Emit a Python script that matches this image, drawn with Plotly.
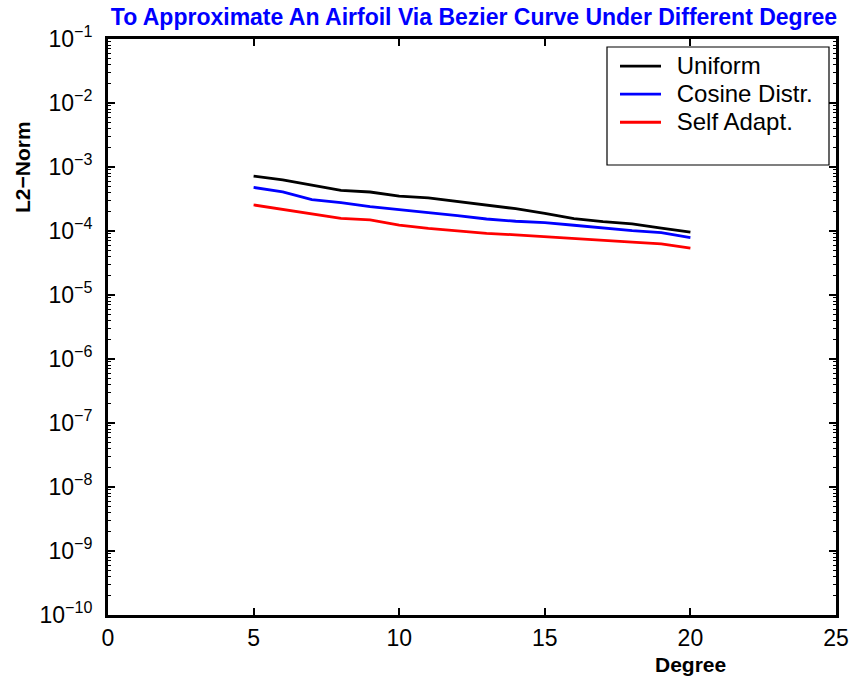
import plotly.graph_objects as go

degree = list(range(5, 21))
uniform = [7.2e-4, 6.3e-4, 5.2e-4, 4.3e-4, 4.07e-4, 3.5e-4, 3.3e-4, 2.9e-4,
           2.58e-4, 2.23e-4, 1.89e-4, 1.56e-4, 1.4e-4, 1.29e-4, 1.11e-4, 9.6e-5]
cosine = [4.8e-4, 4.1e-4, 3.1e-4, 2.77e-4, 2.4e-4, 2.18e-4, 1.93e-4, 1.74e-4,
          1.54e-4, 1.42e-4, 1.35e-4, 1.23e-4, 1.11e-4, 1.01e-4, 9.4e-5, 7.9e-5]
self_adapt = [2.55e-4, 2.18e-4, 1.89e-4, 1.58e-4, 1.49e-4, 1.24e-4, 1.10e-4, 1.0e-4,
              9.2e-5, 8.7e-5, 8.1e-5, 7.7e-5, 7.2e-5, 6.7e-5, 6.3e-5, 5.4e-5]
series_names = ["Uniform", "Cosine Distr.", "Self Adapt."]
series_colors = ["#000000", "#0000ff", "#ff0000"]
x_ticks = [0, 5, 10, 15, 20, 25]
y_exps = list(range(-10, 0))

FONT = "Liberation Sans, Arial, sans-serif"

W, H = 853, 683
L, T, PW, PH = 108, 39, 728, 576

def px(xpage):
    return (xpage - L) / PW

def py(ypage):
    return 1 - (ypage - T) / PH

fig = go.Figure()
for name, vals, col in zip(series_names, [uniform, cosine, self_adapt], series_colors):
    fig.add_trace(go.Scatter(
        x=degree, y=vals, mode="lines",
        name="\u00a0\u00a0<span style='font-size:24px'>%s</span>" % name,
        line=dict(color=col, width=2.8)))

minor_vals = [k * 10.0 ** e for e in range(-10, -1) for k in range(2, 10)]

fig.update_layout(
    template="none",
    width=W, height=H,
    margin=dict(l=L, r=W - L - PW, t=T, b=H - T - PH, autoexpand=False),
    paper_bgcolor="white", plot_bgcolor="white",
    font=dict(family=FONT, size=23, color="black"),
    title=dict(text="<b>To Approximate An Airfoil Via Bezier Curve Under Different Degree</b>",
               x=474 / W, xanchor="center", y=1 - 17 / H, yanchor="middle",
               font=dict(family=FONT, size=23, color="#0000ff")),
    showlegend=True,
    legend=dict(x=px(615), y=py(47), xanchor="left", yanchor="top",
                bgcolor="rgba(0,0,0,0)", borderwidth=0, itemwidth=41,
                font=dict(family=FONT, size=19.3), tracegroupgap=0),
    xaxis=dict(range=[0, 25], tickvals=x_ticks, ticks="inside", ticklen=7,
               tickwidth=1.5, tickcolor="black", showline=True, linewidth=3,
               linecolor="black", mirror="ticks", showgrid=False, zeroline=False,
               automargin=False, tickfont=dict(size=23)),
    yaxis=dict(type="log", range=[-10, -1], tickvals=[10.0 ** e for e in y_exps] + [0.1],
               ticktext=["10<sup>−%d</sup>" % (-e) for e in y_exps] + ["10<sup>−1</sup>"],
               ticks="inside", ticklen=7, tickwidth=1.5, tickcolor="black",
               showline=True, linewidth=3, linecolor="black", mirror="ticks",
               showgrid=False, zeroline=False, automargin=False,
               ticklabelstandoff=8, tickfont=dict(size=23),
               minor=dict(tickvals=minor_vals, ticks="inside", ticklen=3,
                          tickcolor="black", tickwidth=1, showgrid=False)),
    shapes=[dict(type="rect", xref="paper", yref="paper",
                 x0=px(607), x1=px(829), y0=py(165), y1=py(47),
                 line=dict(color="black", width=1.2), fillcolor="white", layer="below")],
    annotations=[
        dict(text="<b>L2−Norm</b>", xref="paper", yref="paper", x=px(22), y=py(167),
             textangle=-90, showarrow=False, font=dict(size=21), xanchor="center", yanchor="middle"),
        dict(text="<b>Degree</b>", xref="x", yref="paper", x=20, y=py(664),
             showarrow=False, font=dict(size=21), xanchor="center", yanchor="middle"),
    ],
)

fig.write_html("out.html",
               config={"displayModeBar": False},
               post_script="document.body.style.margin='0';document.body.style.overflow='hidden';")
